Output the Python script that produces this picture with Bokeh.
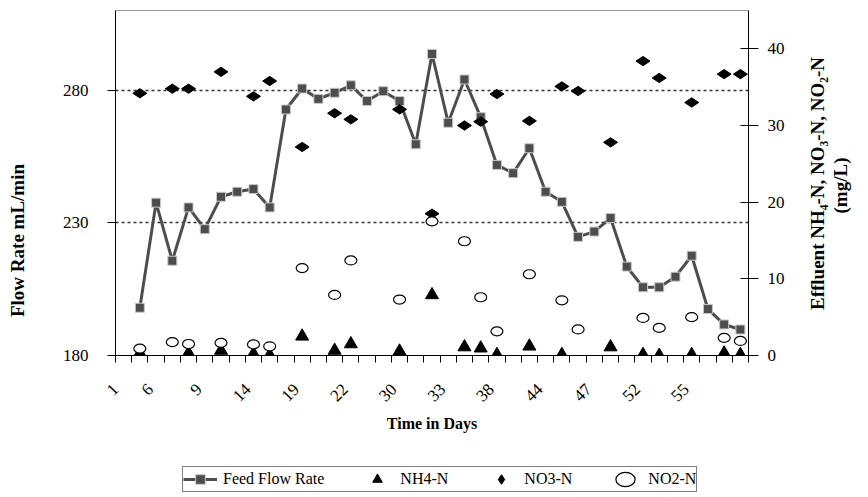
import numpy as np
from math import pi
from bokeh.plotting import figure
from bokeh.layouts import column, row
from bokeh.models import (Range1d, LinearAxis, FixedTicker, CustomJSTickFormatter, Legend,
                          LegendItem, Label)
from bokeh.embed import file_html
from bokeh.resources import INLINE

# ---------------- data ----------------
n_cat = 39                      # sampling positions on the category axis
label_step = 3                  # every third category carries a day label
day_labels = ["1", "6", "9", "14", "19", "22", "30", "33", "38", "44", "47", "52", "55"]

flow_rate = [None, 198.0, 237.6, 215.7, 235.8, 227.6, 239.8, 241.7, 242.7, 235.8,
             272.7, 280.6, 276.7, 279.0, 281.8, 275.9, 279.6, 275.9, 259.6, 293.6,
             267.7, 284.0, 269.8, 251.8, 248.7, 258.1, 241.7, 237.9, 224.7, 226.7,
             231.8, 213.5, 205.7, 205.7, 209.7, 217.6, 197.5, 191.7, 189.8]

sample_cat = [1, 3, 4, 6, 8, 9, 11, 13, 14, 17, 19, 21, 22, 23, 25, 27, 28, 30, 32, 33, 35, 37, 38]
nh4_n = [0.3, None, 0.3, 0.65, 0.2, 0.05, 2.5, 0.65, 1.5, 0.55, 7.9, 1.1, 0.95, 0.1, 1.2,
         0.1, None, 1.1, 0.1, 0.0, 0.1, 0.3, 0.1]
no3_n = [34.2, 34.8, 34.8, 37.0, 33.8, 35.8, 27.2, 31.6, 30.8, 32.1, 18.5, 30.0, 30.5, 34.1,
         30.6, 35.1, 34.5, 27.8, 38.4, 36.2, 33.0, 36.7, 36.7]
no2_n = [0.9, 1.75, 1.5, 1.65, 1.45, 1.2, 11.4, 7.9, 12.4, 7.3, 17.5, 14.9, 7.6, 3.15, 10.6,
         7.2, 3.4, None, 4.9, 3.6, 5.0, 2.3, 1.9]

left_range = (180, 310)
left_ticks = [180, 230, 280]
right_range = (0, 45)
right_ticks = [0, 10, 20, 30, 40]


def arr(v):
    return np.array([np.nan if a is None else a for a in v], dtype=float)


# ---------------- layout (page pixels) ----------------
FONT = "Liberation Serif"
PAGE_W, PAGE_H = 868, 497
L_W, R_X = 40, 790                          # left title strip | chart | right title strip
H_MAIN = 460
FL, FR, FT, FB = 115, 748, 10, 355          # plot-area edges

p = figure(width=R_X - L_W, height=H_MAIN, output_backend="svg", toolbar_location=None,
           x_range=Range1d(-0.5, n_cat - 0.5), y_range=Range1d(*left_range),
           min_border_left=FL - L_W, min_border_right=R_X - FR, min_border_top=FT,
           min_border_bottom=H_MAIN - FB, background_fill_color="white",
           border_fill_color="white")
p.outline_line_color = "#9a9a9a"
p.extra_y_ranges = {"eff": Range1d(*right_range)}

# x axis: small marks between categories (minor), day labels (major, no mark)
label_shift = 1.35
label_pos = [max(-0.5, k - label_shift) for k in range(0, n_cat, label_step)]
xa = p.xaxis[0]
xa.ticker = FixedTicker(ticks=label_pos, minor_ticks=[k - 0.5 for k in range(n_cat + 1)])
xa.formatter = CustomJSTickFormatter(args=dict(pos=label_pos, labels=day_labels),
                                     code="const i = pos.indexOf(tick); return i >= 0 ? labels[i] : '';")
xa.major_tick_out = 0
xa.major_tick_in = 0
xa.major_tick_line_color = None
xa.minor_tick_out = 7
xa.minor_tick_in = 0
xa.minor_tick_line_color = "black"
xa.axis_line_color = "black"
xa.major_label_orientation = pi / 4
xa.major_label_standoff = 24
xa.major_label_text_font = FONT
xa.major_label_text_font_size = "17px"
xa.major_label_text_color = "black"
xa.axis_label = "Time in Days"
xa.axis_label_standoff = 6
xa.axis_label_text_font = FONT
xa.axis_label_text_font_size = "16px"
xa.axis_label_text_font_style = "bold"
xa.axis_label_text_color = "black"

ya = p.yaxis[0]
ya.ticker = FixedTicker(ticks=left_ticks)
ya.major_tick_out = 8
ya.major_tick_in = 0
ya.minor_tick_line_color = None
ya.major_label_standoff = 19
ya.major_label_text_font = FONT
ya.major_label_text_font_size = "17px"
ya.major_label_text_color = "black"
ya.axis_line_color = "black"
ya.major_tick_line_color = "black"

ra = LinearAxis(y_range_name="eff", ticker=FixedTicker(ticks=right_ticks),
                major_tick_in=8, major_tick_out=10, major_label_standoff=9,
                major_label_text_font=FONT, major_label_text_font_size="17px",
                major_label_text_color="black", axis_line_color="black",
                major_tick_line_color="black", minor_tick_line_color=None)
p.add_layout(ra, "right")

p.xgrid.visible = False
p.ygrid.ticker = FixedTicker(ticks=left_ticks[1:])
p.ygrid.grid_line_color = "#333333"
p.ygrid.grid_line_dash = "3 3"
p.ygrid.grid_line_width = 1.3

# ---------------- glyphs ----------------
x_all = np.arange(n_cat)
xs = np.array(sample_cat)
STY = dict(
    flow_line=dict(line_color="#4d4d4d", line_width=3),
    flow_pt=dict(marker="square", size=9, fill_color="#4d4d4d", line_color="#c8c8c8", line_width=1),
    nh4=dict(marker="triangle", size=13, fill_color="black", line_color="black"),
    no3=dict(marker="diamond", size=14, angle=pi / 2, fill_color="black", line_color="black"),
    no2=dict(width=12, height=9, width_units="screen", height_units="screen",
             fill_color="white", line_color="black", line_width=1.2),
)


def draw(fig, **kw):
    r1 = fig.line(x_all, arr(flow_rate), **STY["flow_line"])
    r2 = fig.scatter(x_all, arr(flow_rate), **STY["flow_pt"])
    r3 = fig.scatter(xs, arr(nh4_n), **STY["nh4"], **kw)
    r4 = fig.scatter(xs, arr(no3_n), **STY["no3"], **kw)
    r5 = fig.ellipse(xs, arr(no2_n), **STY["no2"], **kw)
    return r1, r2, r3, r4, r5


draw(p, y_range_name="eff")


def strip(width, height, x0):
    f = figure(width=width, height=height, output_backend="svg", toolbar_location=None,
               x_range=Range1d(x0, x0 + width), y_range=Range1d(height, 0),
               x_axis_location=None, y_axis_location=None, min_border=0,
               background_fill_color="white", border_fill_color="white")
    f.outline_line_color = None
    f.grid.visible = False
    return f


def vtitle(fig, text, X, Y):
    fig.add_layout(Label(x=X, y=Y, text=text, angle=pi / 2, text_align="center",
                         text_baseline="middle", text_font=FONT, text_font_size="19px",
                         text_font_style="bold", text_color="black"))


# ---------------- axis titles (narrow side strips) ----------------
lft = strip(L_W, PAGE_H, 0)
vtitle(lft, "Flow Rate mL/min", 17, 240)
rgt = strip(PAGE_W - R_X, PAGE_H, R_X)
vtitle(rgt, "Effluent NH\u2084-N, NO\u2083-N, NO\u2082-N", 817, 183)
vtitle(rgt, "(mg/L)", 840, 185)

# ---------------- legend strip (separate small figure under the chart) ----------------
q = figure(width=R_X - L_W, height=PAGE_H - H_MAIN, output_backend="svg",
           toolbar_location=None, x_range=Range1d(-0.5, n_cat - 0.5),
           y_range=Range1d(-1000, -999), x_axis_location=None, y_axis_location=None,
           min_border=0, background_fill_color="white", border_fill_color="white")
q.outline_line_color = None
q.grid.visible = False
fl, fs, nh, n3, n2 = draw(q)      # same series, kept out of view: used for the legend keys

legend = Legend(items=[LegendItem(label="Feed Flow Rate", renderers=[fl, fs]),
                       LegendItem(label="NH4-N", renderers=[nh]),
                       LegendItem(label="NO3-N", renderers=[n3]),
                       LegendItem(label="NO2-N", renderers=[n2])],
                orientation="horizontal", location=(182 - FL, 5),
                border_line_color="black", border_line_width=1,
                background_fill_color="white", background_fill_alpha=1.0,
                padding=0, spacing=36, margin=0, glyph_width=34, glyph_height=24,
                label_height=16, label_standoff=6, label_text_font=FONT,
                label_text_font_size="16px", label_text_color="black")
q.add_layout(legend)

page = row(lft, column(p, q, spacing=0), rgt, spacing=0)
open("out.html", "w").write(file_html(page, INLINE))
